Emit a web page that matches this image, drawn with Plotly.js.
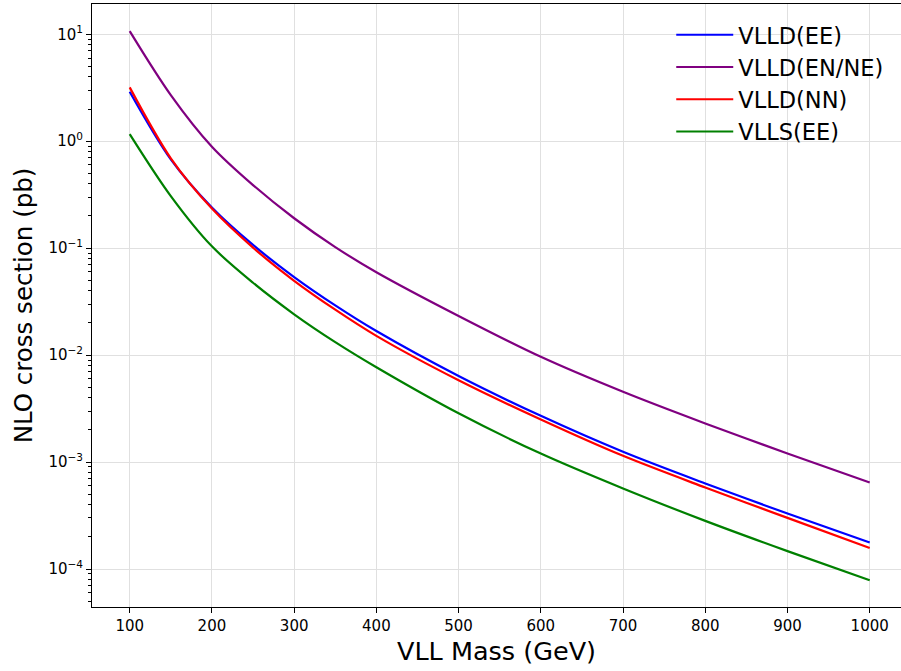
<!DOCTYPE html>
<html>
<head>
<meta charset="utf-8">
<script src="https://cdn.plot.ly/plotly-3.0.1.min.js"></script>
<style>html,body{margin:0;padding:0;background:#fff;overflow:hidden;}#chart{width:901px;height:671px;}</style>
</head>
<body>
<div id="chart"></div>
<script>
// VLL mass points (GeV)
const massVals = [100, 150, 200, 250, 300, 350, 400, 500, 600, 700, 800, 900, 1000];
// NLO cross sections (pb)
const vlldEE   = [2.904, 0.676, 0.2399, 0.1072, 0.0537, 0.02917, 0.01679, 0.00638, 0.002704, 0.001247, 0.000631, 0.000330, 0.000177];
const vlldENNE = [10.72, 2.704, 0.889, 0.389, 0.1905, 0.1023, 0.0596, 0.02323, 0.00964, 0.00454, 0.002296, 0.001202, 0.000644];
const vlldNN   = [3.19, 0.692, 0.2344, 0.1012, 0.04955, 0.02661, 0.01514, 0.00582, 0.00250, 0.001143, 0.000578, 0.0003006, 0.0001574];
const vllsEE   = [1.167, 0.307, 0.104, 0.0475, 0.0241, 0.01324, 0.00771, 0.00286, 0.00120, 0.000566, 0.000282, 0.000147, 0.0000785];

const seriesNames = ["VLLD(EE)", "VLLD(EN/NE)", "VLLD(NN)", "VLLS(EE)"];
const seriesColors = ["#0000ff", "#800080", "#ff0000", "#008000"];
const seriesData = [vlldEE, vlldENNE, vlldNN, vllsEE];

const xTickVals = [100, 200, 300, 400, 500, 600, 700, 800, 900, 1000];
const yTickVals = [1e-4, 1e-3, 1e-2, 1e-1, 1, 10];
const yTickText = ["10<sup>\u22124</sup>", "10<sup>\u22123</sup>", "10<sup>\u22122</sup>", "10<sup>\u22121</sup>", "10<sup>0</sup>", "10<sup>1</sup>"];

const traces = seriesData.map((ys, i) => ({
  x: massVals, y: ys, type: "scatter", mode: "lines",
  name: seriesNames[i],
  line: {color: seriesColors[i], width: 2.2, shape: "spline", smoothing: 0.9}
}));

const FONT = "DejaVu Sans, Verdana, sans-serif";
const layout = {
  width: 901, height: 671,
  margin: {l: 92, r: 0, t: 4, b: 64},
  paper_bgcolor: "#fff", plot_bgcolor: "#fff",
  font: {family: FONT, color: "#000", size: 14},
  showlegend: true,
  legend: {
    x: 0.716, y: 0.984, xanchor: "left", yanchor: "top",
    bgcolor: "rgba(0,0,0,0)", borderwidth: 0,
    itemwidth: 57,
    font: {family: FONT, size: 22.5, color: "#000"}
  },
  xaxis: {
    range: [54.15, 1038.05],
    tickvals: xTickVals,
    ticks: "outside", ticklen: 5, tickwidth: 1, tickcolor: "#000",
    showline: true, linecolor: "#000", linewidth: 1, mirror: true,
    showgrid: true, gridcolor: "#e0e0e0", gridwidth: 1,
    zeroline: false,
    tickfont: {family: FONT, size: 15, color: "#000"},
    title: {text: "VLL Mass (GeV)", font: {family: FONT, size: 25.5, color: "#000"}, standoff: 8}
  },
  yaxis: {
    type: "log",
    range: [-4.3553, 1.2833],
    tickvals: yTickVals, ticktext: yTickText,
    ticks: "outside", ticklen: 5, tickwidth: 1, tickcolor: "#000",
    minor: {ticks: "outside", ticklen: 3, tickcolor: "#000", tickwidth: 1, dtick: "D1", showgrid: false},
    showline: true, linecolor: "#000", linewidth: 1, mirror: false,
    showgrid: true, gridcolor: "#e0e0e0", gridwidth: 1,
    zeroline: false,
    tickfont: {family: FONT, size: 15, color: "#000"},
    title: {text: "NLO cross section (pb)", font: {family: FONT, size: 24.5, color: "#000"}, standoff: 8}
  }
};

Plotly.newPlot("chart", traces, layout, {staticPlot: true, displayModeBar: false});
</script>
</body>
</html>
